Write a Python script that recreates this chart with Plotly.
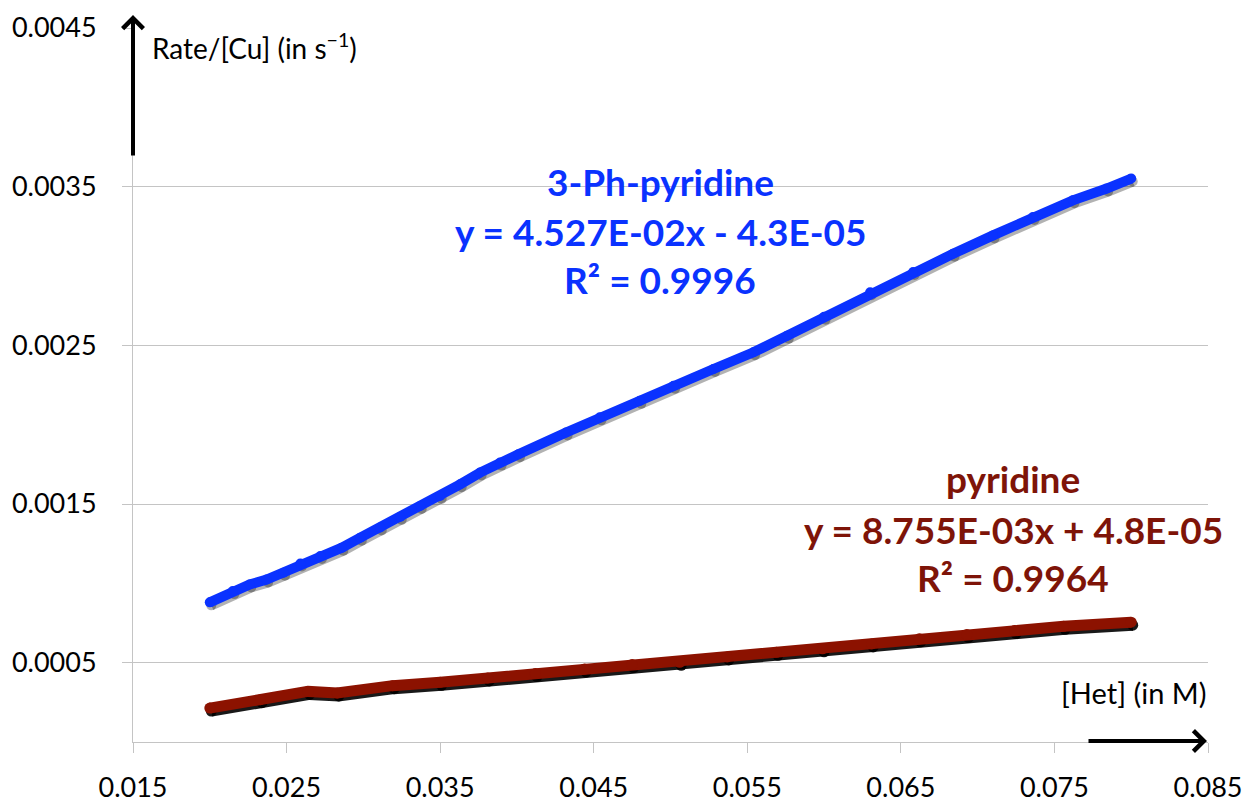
import plotly.graph_objects as go

# Rate/[Cu] versus heterocycle concentration
ph_pyr_x = [0.0200, 0.0215, 0.0226, 0.0237, 0.0248, 0.0259, 0.0272, 0.0286, 0.0298,
            0.0311, 0.0324, 0.0337, 0.0350, 0.0363, 0.0376, 0.0389, 0.0401, 0.0432,
            0.0454, 0.0480, 0.0502, 0.0528, 0.0554, 0.0576, 0.0600, 0.0630, 0.0658,
            0.0684, 0.0710, 0.0736, 0.0762, 0.0784, 0.0800]
ph_pyr_y = [0.000880, 0.000951, 0.000993, 0.001024, 0.001067, 0.001125, 0.001172,
            0.001225, 0.001288, 0.001352, 0.001419, 0.001487, 0.001551, 0.001624,
            0.001698, 0.001761, 0.001814, 0.001951, 0.002046, 0.002150, 0.002245,
            0.002351, 0.002456, 0.002561, 0.002680, 0.002835, 0.002962, 0.003077,
            0.003193, 0.003309, 0.003414, 0.003488, 0.003551]

pyr_x = [0.0200, 0.0233, 0.0264, 0.0283, 0.0319, 0.0350, 0.0381, 0.0412, 0.0444, 0.0475,
         0.0506, 0.0537, 0.0569, 0.0599, 0.0631, 0.0662, 0.0693, 0.0724, 0.0756, 0.0800]
pyr_y = [0.000214, 0.000267, 0.000319, 0.000309, 0.000355, 0.000376, 0.000404, 0.000431,
         0.000460, 0.000488, 0.000502, 0.000536, 0.000565, 0.000587, 0.000618, 0.000650,
         0.000677, 0.000702, 0.000729, 0.000755]

x_ticks = [0.015, 0.025, 0.035, 0.045, 0.055, 0.065, 0.075, 0.085]
x_tick_text = ["0.015", "0.025", "0.035", "0.045", "0.055", "0.065", "0.075", "0.085"]
y_ticks = [0.0005, 0.0015, 0.0025, 0.0035, 0.0045]
y_tick_text = ["0.0005", "0.0015", "0.0025", "0.0035", "0.0045"]

blue_label = ["3-Ph-pyridine", "y = 4.527E-02x - 4.3E-05", "R\u00b2 = 0.9996"]
red_label = ["pyridine", "y = 8.755E-03x + 4.8E-05", "R\u00b2 = 0.9964"]

BLUE = "#0a32ff"
RED = "#8c1200"
RED_TEXT = "#7e1408"
GRID = "#c4c4c4"
FONT = "Lato"

X_RANGE = [0.015, 0.085]
Y_RANGE = [0.0, 0.0045]
W, H = 1248, 802
M = dict(l=133, r=40, t=28, b=60)
plot_w = W - M["l"] - M["r"]
plot_h = H - M["t"] - M["b"]
# drop shadow: same data on an overlay axis pair shifted by a few pixels
dx = 1.5 * (X_RANGE[1] - X_RANGE[0]) / plot_w
dy = 3.0 * (Y_RANGE[1] - Y_RANGE[0]) / plot_h

fig = go.Figure()

# base subplot carries the visible axes and grid
fig.add_trace(go.Scatter(x=pyr_x, y=pyr_y, mode="lines", xaxis="x", yaxis="y",
                         line=dict(color="rgba(0,0,0,0)", width=0),
                         hoverinfo="skip", showlegend=False))

for xs, ys, col, w in [(ph_pyr_x, ph_pyr_y, "rgba(0,0,0,0.3)", 10),
                       (pyr_x, pyr_y, "rgba(0,0,0,0.9)", 11)]:
    fig.add_trace(go.Scatter(x=xs, y=ys, mode="lines+markers", xaxis="x2", yaxis="y2",
                             line=dict(color=col, width=w),
                             marker=dict(color=col, size=w),
                             hoverinfo="skip", showlegend=False))

for xs, ys, col, w in [(ph_pyr_x, ph_pyr_y, BLUE, 10), (pyr_x, pyr_y, RED, 11)]:
    fig.add_trace(go.Scatter(x=xs, y=ys, mode="lines+markers", xaxis="x3", yaxis="y3",
                             line=dict(color=col, width=w),
                             marker=dict(color=col, size=w),
                             showlegend=False))

tick_font = dict(family=FONT, size=27, color="black")
fig.update_layout(
    width=W, height=H, margin=M,
    paper_bgcolor="white", plot_bgcolor="white",
    showlegend=False,
    xaxis=dict(range=X_RANGE, tickvals=x_ticks, ticktext=x_tick_text, automargin=False,
               showgrid=False, zeroline=False, showline=True, linecolor=GRID, linewidth=1,
               ticks="outside", ticklen=10, tickcolor=GRID, tickfont=tick_font,
               ticklabelstandoff=12),
    yaxis=dict(range=Y_RANGE, tickvals=y_ticks, ticktext=y_tick_text, automargin=False,
               showgrid=True, gridcolor=GRID, gridwidth=1, zeroline=False,
               showline=True, linecolor=GRID, linewidth=1,
               ticks="outside", ticklen=10, tickcolor=GRID, tickfont=tick_font,
               ticklabelstandoff=20),
    xaxis2=dict(range=[X_RANGE[0] - dx, X_RANGE[1] - dx], overlaying="x", visible=False),
    yaxis2=dict(range=[Y_RANGE[0] + dy, Y_RANGE[1] + dy], overlaying="y", visible=False),
    xaxis3=dict(range=X_RANGE, overlaying="x", visible=False),
    yaxis3=dict(range=Y_RANGE, overlaying="y", visible=False),
)

def px_x(p):
    return (p - M["l"]) / plot_w

def px_y(p):
    return (H - M["b"] - p) / plot_h

ann = []
# axis arrows
ann.append(dict(xref="paper", yref="paper", x=0, y=px_y(15), ax=0, ay=142,
                showarrow=True, arrowhead=4, arrowsize=1, arrowwidth=4,
                arrowcolor="black", text=""))
ann.append(dict(xref="paper", yref="paper", x=px_x(1207), y=px_y(741), ax=-120, ay=0,
                showarrow=True, arrowhead=4, arrowsize=1, arrowwidth=4,
                arrowcolor="black", text=""))
# axis titles
ann.append(dict(xref="paper", yref="paper", x=px_x(150), y=px_y(46), xanchor="left",
                yanchor="middle", showarrow=False,
                text="Rate/[Cu] (in s<sup>\u22121</sup>)",
                font=dict(family=FONT, size=28, color="black")))
ann.append(dict(xref="paper", yref="paper", x=1.0, y=px_y(692), xanchor="right",
                yanchor="middle", showarrow=False, text="[Het] (in M)",
                font=dict(family=FONT, size=29, color="black")))
# trendline labels
for txt, py in zip(blue_label, [181, 231, 279]):
    ann.append(dict(xref="paper", yref="paper", x=px_x(660), y=px_y(py),
                    xanchor="center", yanchor="middle", showarrow=False, text=f"<b>{txt}</b>",
                    font=dict(family=FONT, size=37, color=BLUE)))
for txt, py in zip(red_label, [478, 529, 577]):
    ann.append(dict(xref="paper", yref="paper", x=px_x(1013), y=px_y(py),
                    xanchor="center", yanchor="middle", showarrow=False, text=f"<b>{txt}</b>",
                    font=dict(family=FONT, size=37, color=RED_TEXT)))
fig.update_layout(annotations=ann)

fig.write_html("out.html")
